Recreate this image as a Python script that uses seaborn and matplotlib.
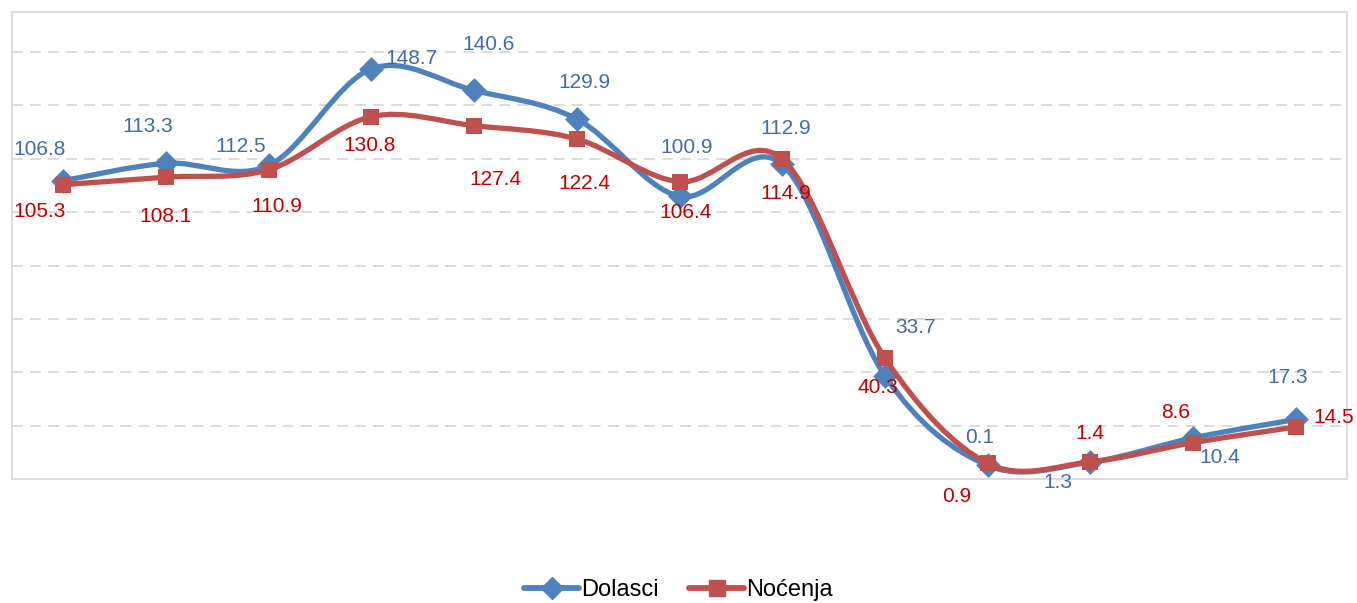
import numpy as np
import pandas as pd
import matplotlib
matplotlib.use("Agg")
import matplotlib.pyplot as plt
import seaborn as sns
from matplotlib.path import Path
from matplotlib.patches import PathPatch
from matplotlib.lines import Line2D

# Data
periods = list(range(13))
dolasci = [106.8, 113.3, 112.5, 148.7, 140.6, 129.9, 100.9, 112.9, 33.7, 0.1, 1.3, 10.4, 17.3]
nocenja = [105.3, 108.1, 110.9, 130.8, 127.4, 122.4, 106.4, 114.9, 40.3, 0.9, 1.4, 8.6, 14.5]
series_names = ["Dolasci", "Noćenja"]

# Label offsets in pixels (dx, dy)
dol_offsets = [(-24, 31), (-18, 37), (-28, 19), (40, 10), (14, 46), (8, 37), (7, 49),
               (3, 36), (31, 48), (-8, 28), (-32, -20), (27, -20), (-8, 42)]
noc_offsets = [(-24, -27), (0, -39), (8, -37), (-2, -29), (21, -54), (8, -44), (6, -31),
               (4, -34), (-7, -29), (-31, -33), (0, 28), (-17, 30), (38, 9)]

BLUE = "#4F81BD"
RED = "#C0504D"
BLUE_TXT = "#416CA6"
RED_TXT = "#C00000"

df = pd.DataFrame({
    "period": periods * 2,
    "value": dolasci + nocenja,
    "series": [series_names[0]] * len(periods) + [series_names[1]] * len(periods),
})


def smooth_path(x, y):
    # Excel-like smoothed line: cubic Bezier with Catmull-Rom control points
    pts = np.column_stack([x, y]).astype(float)
    n = len(pts)
    verts = [pts[0]]
    codes = [Path.MOVETO]
    for i in range(n - 1):
        p0 = pts[i - 1] if i > 0 else pts[i]
        p1 = pts[i]
        p2 = pts[i + 1]
        p3 = pts[i + 2] if i + 2 < n else pts[i + 1]
        c1 = p1 + (p2 - p0) / 6.0
        c2 = p2 - (p3 - p1) / 6.0
        verts += [c1, c2, p2]
        codes += [Path.CURVE4] * 3
    return Path(verts, codes)


sns.set_style("white")
plt.rcParams["font.family"] = ["Liberation Sans", "DejaVu Sans"]

fig = plt.figure(figsize=(13.57, 6.03), dpi=100)
ax = fig.add_axes([12 / 1357, 1 - 479 / 603, 1335 / 1357, 467 / 603])

ax.set_xlim(-0.5, 12.5)
ax.set_ylim(-5, 170)
ax.set_yticks(np.arange(15, 170, 20))
ax.set_xticks([])
ax.yaxis.grid(True, color="#D9D9D9", linestyle=(0, (6, 4)), linewidth=1.3)
ax.tick_params(length=0, labelleft=False, labelbottom=False)
for s in ax.spines.values():
    s.set_color("#D9D9D9")
    s.set_linewidth(1.3)

for name, vals, color, marker, z in [(series_names[0], dolasci, BLUE, "D", 3),
                                     (series_names[1], nocenja, RED, "s", 5)]:
    ax.add_patch(PathPatch(smooth_path(periods, vals), facecolor="none", edgecolor=color,
                           linewidth=3.8, capstyle="round", joinstyle="round", zorder=z))
    sub = df[df["series"] == name]
    sns.scatterplot(data=sub, x="period", y="value", marker=marker, color=color,
                    s=140 if marker == "s" else 160, edgecolor=color, linewidth=0,
                    ax=ax, zorder=z + 1, legend=False)

for i, v in enumerate(dolasci):
    ax.annotate(f"{v:.1f}", (periods[i], v), xytext=dol_offsets[i], textcoords="offset pixels",
                ha="center", va="center", fontsize=15, color=BLUE_TXT, zorder=10)
for i, v in enumerate(nocenja):
    ax.annotate(f"{v:.1f}", (periods[i], v), xytext=noc_offsets[i], textcoords="offset pixels",
                ha="center", va="center", fontsize=15, color=RED_TXT, zorder=10)

ax.set_xlabel("")
ax.set_ylabel("")

handles = [Line2D([], [], color=BLUE, lw=4.2, marker="D", markersize=11, solid_capstyle="round"),
           Line2D([], [], color=RED, lw=4.2, marker="s", markersize=11, solid_capstyle="round")]
leg = fig.legend(handles, series_names, loc="center", bbox_to_anchor=(0.5, 0.021), ncol=2,
                 frameon=False, fontsize=17, handlelength=2.3, handletextpad=0.1,
                 columnspacing=1.3, borderpad=0)
for t in leg.get_texts():
    t.set_color("black")

fig.savefig("out.png", dpi=100)
